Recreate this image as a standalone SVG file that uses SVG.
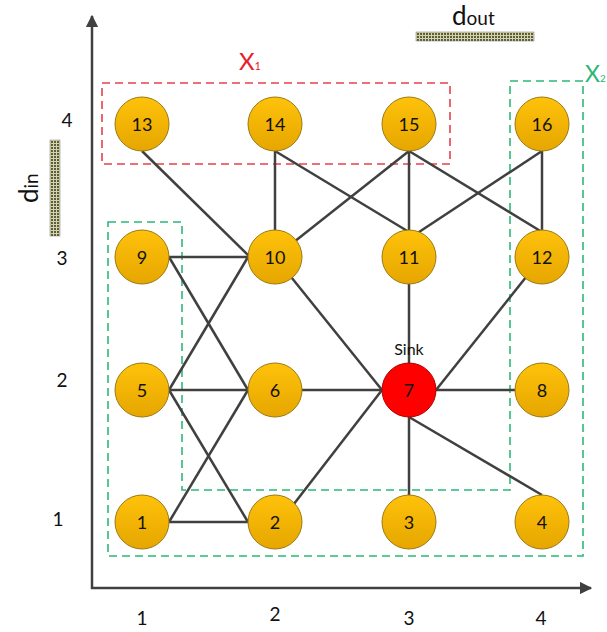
<svg xmlns="http://www.w3.org/2000/svg" width="607" height="632" viewBox="0 0 607 632">
<defs>
<linearGradient id="gold" x1="0" y1="0" x2="0" y2="1">
<stop offset="0" stop-color="#FFC20A"/>
<stop offset="1" stop-color="#E6A600"/>
</linearGradient>
<pattern id="grid" width="3" height="3" patternUnits="userSpaceOnUse">
<rect width="3" height="3" fill="#d4d4a6"/>
<rect width="2" height="2" fill="#5c5c40"/>
</pattern>
<marker id="arr" viewBox="0 0 10 10" refX="9" refY="5" markerWidth="5" markerHeight="5" orient="auto" markerUnits="strokeWidth">
<path d="M0,0 L10,5 L0,10 z" fill="#404040"/>
</marker>
</defs>
<style>
.node circle{fill:url(#gold);stroke:#9a7a14;stroke-width:1}
.node text,.lbl{font-family:Lato,"Open Sans","Liberation Sans",sans-serif;font-size:18px;fill:#111;text-anchor:middle;dominant-baseline:central}
.lbl{font-size:19px}
.edge{stroke:#404040;stroke-width:2.5;fill:none}
.axis{stroke:#404040;stroke-width:2.5;fill:none}
.red{fill:none;stroke:#E8404C;stroke-width:1.6;stroke-dasharray:8 5}
.green{fill:none;stroke:#2DB878;stroke-width:1.6;stroke-dasharray:8 5}
.t{font-family:Lato,"Open Sans","Liberation Sans",sans-serif}
</style>
<rect width="607" height="632" fill="#fff"/>

<g id="axes">
<line class="axis" x1="92" y1="589" x2="92" y2="16" marker-end="url(#arr)"/>
<line class="axis" x1="91" y1="588" x2="591" y2="588" marker-end="url(#arr)"/>
<text class="lbl" x="142" y="617">1</text>
<text class="lbl" x="275" y="613">2</text>
<text class="lbl" x="409" y="617">3</text>
<text class="lbl" x="541" y="617">4</text>
<text class="lbl" x="67" y="119">4</text>
<text class="lbl" x="62" y="257">3</text>
<text class="lbl" x="62" y="379">2</text>
<text class="lbl" x="58" y="518">1</text>
</g>

<g id="legend">
<text class="t" x="452" y="25" font-size="26" fill="#111">d<tspan font-size="19">out</tspan></text>
<rect x="416" y="32" width="118" height="9" fill="url(#grid)" stroke="#777" stroke-width="0.5"/>
<text class="t" transform="translate(38,203) rotate(-90)" font-size="26" fill="#111">d<tspan font-size="19">in</tspan></text>
<rect x="50" y="140" width="10" height="96" fill="url(#grid)" stroke="#777" stroke-width="0.5"/>
</g>

<g id="regions">
<rect class="red" x="102" y="83" width="348" height="81"/>
<text class="t" x="239" y="70" font-size="24" fill="#E8202A">X<tspan font-size="11">1</tspan></text>
<path class="green" d="M108,222 H182 V490 H510 V81 H583 V556 H108 Z"/>
<text class="t" x="585" y="82" font-size="23" fill="#2DB878">X<tspan font-size="10">2</tspan></text>
</g>

<g id="connectors">
<line class="edge" x1="142" y1="151" x2="250" y2="257"/>
<line class="edge" x1="275" y1="151" x2="275" y2="232"/>
<line class="edge" x1="275" y1="151" x2="409" y2="232"/>
<line class="edge" x1="409" y1="151" x2="275" y2="257"/>
<line class="edge" x1="409" y1="151" x2="409" y2="232"/>
<line class="edge" x1="409" y1="151" x2="542" y2="232"/>
<line class="edge" x1="542" y1="151" x2="416" y2="234"/>
<line class="edge" x1="542" y1="151" x2="542" y2="232"/>
<line class="edge" x1="169" y1="257" x2="250" y2="257"/>
<line class="edge" x1="169" y1="257" x2="248" y2="390"/>
<line class="edge" x1="169" y1="390" x2="248" y2="257"/>
<line class="edge" x1="169" y1="390" x2="250" y2="390"/>
<line class="edge" x1="169" y1="390" x2="248" y2="522"/>
<line class="edge" x1="169" y1="522" x2="248" y2="390"/>
<line class="edge" x1="167" y1="522" x2="250" y2="522"/>
<line class="edge" x1="275" y1="257" x2="382" y2="390"/>
<line class="edge" x1="275" y1="390" x2="384" y2="390"/>
<line class="edge" x1="280" y1="522" x2="382" y2="390"/>
<line class="edge" x1="409" y1="257" x2="409" y2="390"/>
<line class="edge" x1="542" y1="257" x2="436" y2="390"/>
<line class="edge" x1="409" y1="390" x2="542" y2="390"/>
<line class="edge" x1="409" y1="390" x2="409" y2="522"/>
<line class="edge" x1="409" y1="417" x2="542" y2="495"/>
</g>

<g id="n1" class="node"><circle cx="142" cy="522" r="27"/><text x="142" y="522">1</text></g>
<g id="n2" class="node"><circle cx="275" cy="522" r="27"/><text x="275" y="522">2</text></g>
<g id="n3" class="node"><circle cx="409" cy="522" r="27"/><text x="409" y="522">3</text></g>
<g id="n4" class="node"><circle cx="542" cy="522" r="27"/><text x="542" y="522">4</text></g>
<g id="n5" class="node"><circle cx="142" cy="390" r="27"/><text x="142" y="390">5</text></g>
<g id="n6" class="node"><circle cx="275" cy="390" r="27"/><text x="275" y="390">6</text></g>
<g id="n7" class="node"><circle cx="409" cy="390" r="27" style="fill:#FF0000;stroke:#B00000"/><text x="409" y="390">7</text><text x="409" y="348" style="font-size:16px">Sink</text></g>
<g id="n8" class="node"><circle cx="542" cy="390" r="27"/><text x="542" y="390">8</text></g>
<g id="n9" class="node"><circle cx="142" cy="257" r="27"/><text x="142" y="257">9</text></g>
<g id="n10" class="node"><circle cx="275" cy="257" r="27"/><text x="275" y="257">10</text></g>
<g id="n11" class="node"><circle cx="409" cy="257" r="27"/><text x="409" y="257">11</text></g>
<g id="n12" class="node"><circle cx="542" cy="257" r="27"/><text x="542" y="257">12</text></g>
<g id="n13" class="node"><circle cx="142" cy="124" r="27"/><text x="142" y="124">13</text></g>
<g id="n14" class="node"><circle cx="275" cy="124" r="27"/><text x="275" y="124">14</text></g>
<g id="n15" class="node"><circle cx="409" cy="124" r="27"/><text x="409" y="124">15</text></g>
<g id="n16" class="node"><circle cx="542" cy="124" r="27"/><text x="542" y="124">16</text></g>
</svg>
